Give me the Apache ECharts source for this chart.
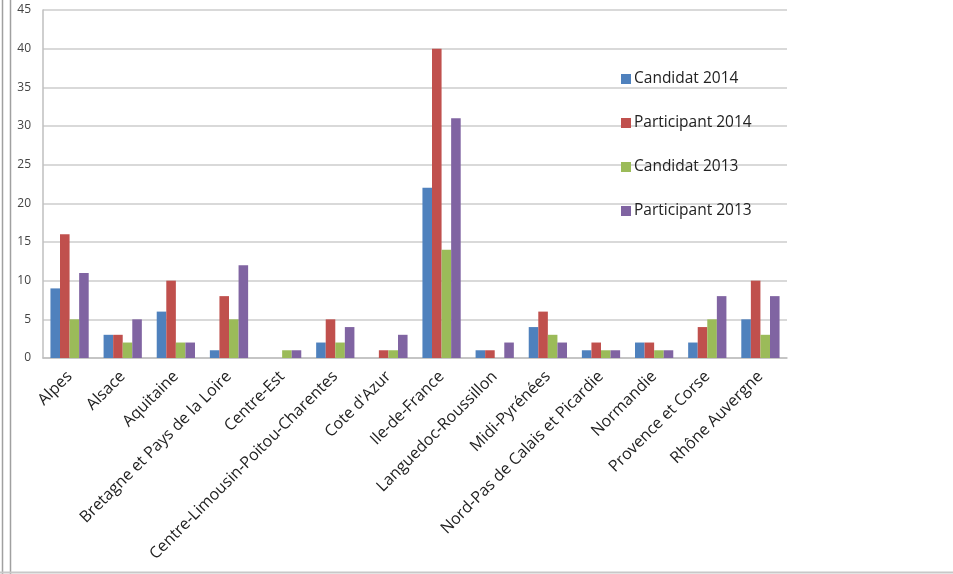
<!DOCTYPE html>
<html>
<head>
<meta charset="utf-8">
<script src="https://cdn.jsdelivr.net/npm/echarts@6/dist/echarts.min.js"></script>
<style>
html,body{margin:0;padding:0;background:#fff;}
#chart{width:953px;height:574px;}
</style>
</head>
<body>
<div id="chart"></div>
<script>
const categories = ["Alpes","Alsace","Aquitaine","Bretagne et Pays de la Loire","Centre-Est","Centre-Limousin-Poitou-Charentes","Cote d'Azur","Ile-de-France","Languedoc-Roussillon","Midi-Pyrénées","Nord-Pas de Calais et Picardie","Normandie","Provence et Corse","Rhône Auvergne"];
const seriesNames = ["Candidat 2014","Participant 2014","Candidat 2013","Participant 2013"];
const candidat2014 =    [9, 3, 6, 1, 0, 2, 0, 22, 1, 4, 1, 2, 2, 5];
const participant2014 = [16, 3, 10, 8, 0, 5, 1, 40, 1, 6, 2, 2, 4, 10];
const candidat2013 =    [5, 2, 2, 5, 1, 2, 1, 14, 0, 3, 1, 1, 5, 3];
const participant2013 = [11, 5, 2, 12, 1, 4, 3, 31, 2, 2, 1, 1, 8, 8];
const colors = ["#4F81BD","#C0504D","#9BBB59","#8064A2"];
const yMin = 0, yMax = 45, yStep = 5;

const values = [candidat2014, participant2014, candidat2013, participant2013];
const chart = echarts.init(document.getElementById('chart'), null, {renderer:'canvas'});
chart.setOption({
  animation:false,
  backgroundColor:'#fff',
  textStyle:{fontFamily:'Open Sans, sans-serif'},
  grid:{left:43, top:10, width:744, height:348, containLabel:false},
  legend:{
    orient:'vertical', left:616, top:65, itemGap:26, itemWidth:10, itemHeight:10,
    icon:'rect',
    textStyle:{fontSize:15.5, color:'#222', fontFamily:'Open Sans, sans-serif', padding:[0,0,0,-2], lineHeight:18},
    data:seriesNames
  },
  xAxis:{
    type:'category', data:categories,
    axisLine:{show:true, lineStyle:{color:'#BFBFBF', width:1.5}},
    axisTick:{show:false},
    axisLabel:{interval:0, rotate:45, fontSize:16, color:'#222', margin:16, fontFamily:'Open Sans, sans-serif'}
  },
  yAxis:{
    type:'value', min:yMin, max:yMax, interval:yStep,
    axisLine:{show:true, lineStyle:{color:'#BFBFBF', width:1.5}},
    axisTick:{show:false},
    axisLabel:{fontSize:12, color:'#444', margin:12},
    splitLine:{lineStyle:{color:'#D9D9D9', width:2}}
  },
  series: seriesNames.map((n,i)=>({
    name:n, type:'bar', data:values[i], barGap:'0%', barCategoryGap:'28%',
    itemStyle:{color:colors[i]}
  })),
  graphic:[
    {type:'line', shape:{x1:2.5,y1:0,x2:2.5,y2:574}, style:{stroke:'#A0A0A0', lineWidth:1.5}},
    {type:'line', shape:{x1:10.5,y1:0,x2:10.5,y2:574}, style:{stroke:'#A0A0A0', lineWidth:1.5}},
    {type:'line', shape:{x1:0,y1:572.5,x2:953,y2:572.5}, style:{stroke:'#C8C8C8', lineWidth:2}}
  ]
});
</script>
</body>
</html>
